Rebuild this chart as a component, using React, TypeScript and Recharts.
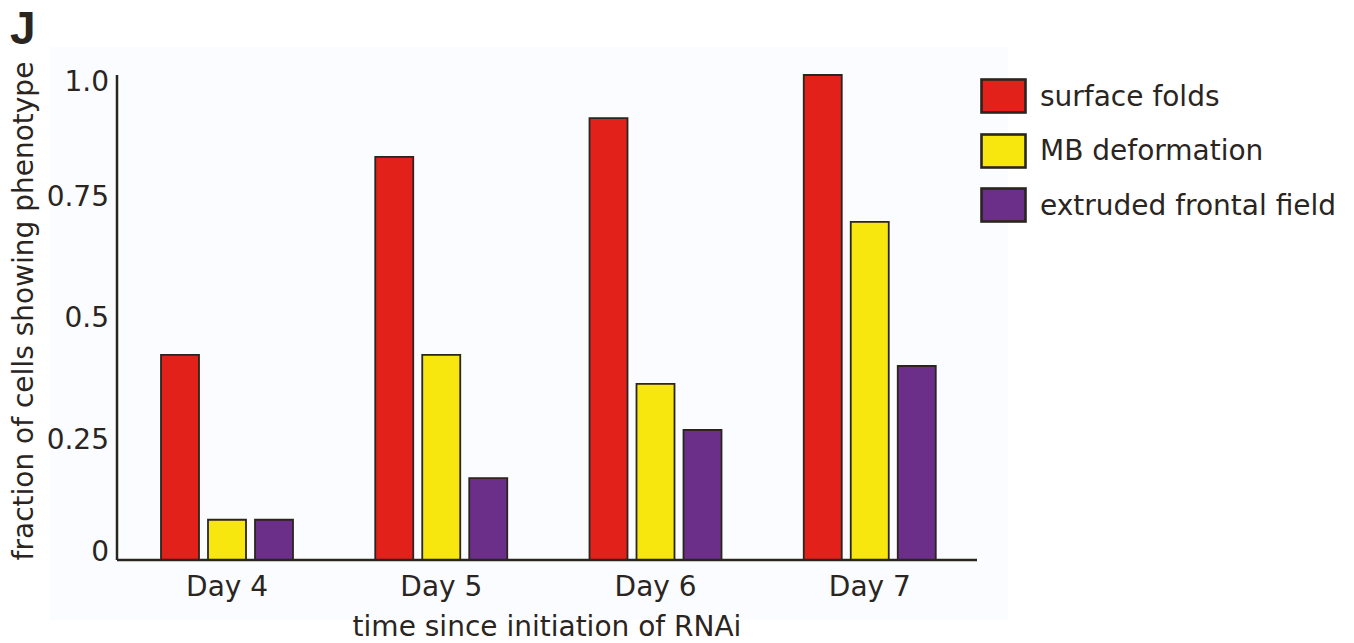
import React from 'react';
import { BarChart, Bar, XAxis, YAxis, Legend, Label } from 'recharts';

const categories = ['Day 4', 'Day 5', 'Day 6', 'Day 7'];
const surfaceFolds = [0.423, 0.831, 0.911, 1.0];
const mbDeformation = [0.083, 0.423, 0.363, 0.697];
const extrudedFrontalField = [0.083, 0.169, 0.268, 0.4];
const yTicks = [0, 0.25, 0.5, 0.75, 1.0];
const yTickLabels = ['0', '0.25', '0.5', '0.75', '1.0'];
const seriesNames = ['surface folds', 'MB deformation', 'extruded frontal field'];
const seriesColors = ['#e2211a', '#f7e70f', '#6b2f8a'];

const data = categories.map((c, i) => ({
  day: c,
  s0: surfaceFolds[i],
  s1: mbDeformation[i],
  s2: extrudedFrontalField[i],
}));

const FONT = '"DejaVu Sans", sans-serif';
const INK = '#2a251f';

const YTick = (props: any) => {
  const { x, y, payload } = props;
  const idx = yTicks.indexOf(payload.value);
  const nudge = payload.value === 0 ? -9 : payload.value === 1 ? 6 : 0;
  return (
    <text x={x} y={y + nudge} dy="0.355em" textAnchor="end" fontFamily={FONT} fontSize={28} fill={INK}>
      {idx >= 0 ? yTickLabels[idx] : String(payload.value)}
    </text>
  );
};

const LegendContent = () => {
  return (
    <div style={{ display: 'flex', flexDirection: 'column' }}>
      {seriesNames.map((name, i) => (
        <div key={i} style={{ display: 'flex', alignItems: 'center', height: 54.5 }}>
          <svg width={48} height={36} style={{ display: 'block' }}>
            <rect x={1.5} y={1.5} width={44} height={33} fill={seriesColors[i]} stroke={INK} strokeWidth={2.6} />
          </svg>
          <span style={{ marginLeft: 12, fontFamily: FONT, fontSize: 28, color: INK, whiteSpace: 'nowrap' }}>
            {name}
          </span>
        </div>
      ))}
    </div>
  );
};

const YLabel = () => {
  const cx = 33;
  const cy = 311;
  return (
    <text x={cx} y={cy} textAnchor="middle" transform={`rotate(-90, ${cx}, ${cy})`} fontFamily={FONT} fontSize={28} fill={INK}>
      fraction of cells showing phenotype
    </text>
  );
};

export default function App() {
  return (
    <div style={{ position: 'absolute', left: 0, top: 0, width: 1354, height: 643, background: '#ffffff', overflow: 'hidden' }}>
      <div style={{ position: 'absolute', left: 50, top: 47, width: 958, height: 573, background: '#fafcff' }} />
      <svg style={{ position: 'absolute', left: 0, top: 0 }} width={80} height={60}>
        <text x={10} y={44} fontFamily='"Liberation Sans", Arial, sans-serif' fontWeight="bold" fontSize={46} fill={INK}>
          J
        </text>
      </svg>
      <div style={{ position: 'absolute', left: 0, top: 0 }}>
        <BarChart
          width={1354}
          height={643}
          data={data}
          margin={{ top: 75, right: 377, bottom: 0, left: 0 }}
          barSize={38}
          barGap={9}
        >
          <XAxis
            dataKey="day"
            height={83}
            padding={{ left: 3, right: 0 }}
            tickLine={false}
            axisLine={{ stroke: INK, strokeWidth: 2.5 }}
            tickMargin={10}
            tick={{ fontFamily: FONT, fontSize: 28, fill: INK }}
          >
            <Label
              value="time since initiation of RNAi"
              position="insideBottom"
              offset={7}
              style={{ fontFamily: FONT, fontSize: 28, fill: INK }}
            />
          </XAxis>
          <YAxis
            width={117}
            domain={[0, 1]}
            ticks={yTicks}
            tickLine={false}
            axisLine={{ stroke: INK, strokeWidth: 2.5 }}
            tick={<YTick />}
            interval={0}
          >
            <Label content={<YLabel />} />
          </YAxis>
          <Legend
            layout="vertical"
            verticalAlign="middle"
            align="center"
            content={<LegendContent />}
            wrapperStyle={{ position: 'absolute', left: 980, top: 69, width: 370 }}
          />
          <Bar dataKey="s0" name={seriesNames[0]} fill={seriesColors[0]} stroke={INK} strokeWidth={1.8} isAnimationActive={false} />
          <Bar dataKey="s1" name={seriesNames[1]} fill={seriesColors[1]} stroke={INK} strokeWidth={1.8} isAnimationActive={false} />
          <Bar dataKey="s2" name={seriesNames[2]} fill={seriesColors[2]} stroke={INK} strokeWidth={1.8} isAnimationActive={false} />
        </BarChart>
      </div>
    </div>
  );
}
